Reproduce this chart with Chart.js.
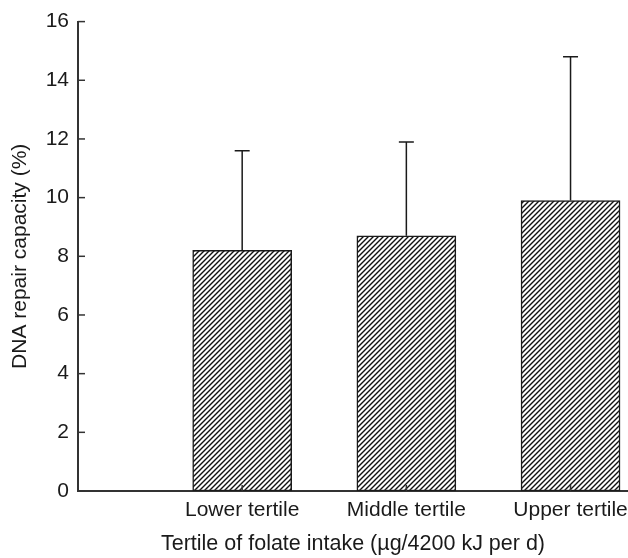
<!DOCTYPE html>
<html>
<head>
<meta charset="utf-8">
<script src="https://cdn.jsdelivr.net/npm/chart.js@4.4.1/dist/chart.umd.min.js"></script>
<style>
  html, body { margin: 0; padding: 0; background: #fff; }
  #wrap { width: 628px; height: 558px; }
</style>
</head>
<body>
<div id="wrap"><canvas id="repairChart"></canvas></div>
<script>
// tertiles of folate intake
const categories = ["Lower tertile", "Middle tertile", "Upper tertile"];
// mean DNA repair capacity (%)
const meanRepair = [8.2, 8.7, 9.9];
// upper error (SD)
const sdRepair = [3.4, 3.2, 4.9];
const yTicks = [0, 2, 4, 6, 8, 10, 12, 14, 16];

const FONT = "'Liberation Sans', Arial, Helvetica, sans-serif";
const INK = "#1a1a1a";

// diagonal hatch "/" pattern
function hatchPattern(size) {
  const c = document.createElement("canvas");
  c.width = size; c.height = size;
  const g = c.getContext("2d");
  g.fillStyle = "#fff";
  g.fillRect(0, 0, size, size);
  g.strokeStyle = "#111";
  g.lineWidth = 1.4;
  g.beginPath();
  g.moveTo(0, size); g.lineTo(size, 0);
  g.moveTo(-1, 1); g.lineTo(1, -1);
  g.moveTo(size - 1, size + 1); g.lineTo(size + 1, size - 1);
  g.stroke();
  return g.createPattern(c, "repeat");
}

// error bars (upward only) + inward tick marks
const extrasPlugin = {
  id: "extras",
  afterDatasetsDraw(chart) {
    const { ctx, scales: { x, y }, chartArea } = chart;
    ctx.save();
    ctx.strokeStyle = INK;
    ctx.lineWidth = 1.5;
    meanRepair.forEach((m, i) => {
      const px = x.getPixelForValue(i + 1);
      const yb = y.getPixelForValue(m);
      const yt = y.getPixelForValue(m + sdRepair[i]);
      ctx.beginPath();
      ctx.moveTo(px, yb); ctx.lineTo(px, yt);
      ctx.moveTo(px - 7.5, yt); ctx.lineTo(px + 7.5, yt);
      ctx.stroke();
    });
    // y ticks pointing into plot
    ctx.strokeStyle = "#333";
    yTicks.forEach(v => {
      const py = y.getPixelForValue(v);
      ctx.beginPath();
      ctx.moveTo(chartArea.left, py); ctx.lineTo(chartArea.left + 7, py);
      ctx.stroke();
    });
    // x ticks pointing up
    categories.forEach((c, i) => {
      const px = x.getPixelForValue(i + 1);
      ctx.beginPath();
      ctx.moveTo(px, chartArea.bottom); ctx.lineTo(px, chartArea.bottom - 6);
      ctx.stroke();
    });
    ctx.restore();
  }
};

const ctx = document.getElementById("repairChart").getContext("2d");
new Chart(ctx, {
  type: "bar",
  data: {
    datasets: [{
      data: meanRepair.map((v, i) => ({ x: i + 1, y: v })),
      backgroundColor: hatchPattern(5),
      borderColor: INK,
      borderWidth: 1.5,
      borderSkipped: false,
      barThickness: 99,
    }],
  },
  options: {
    responsive: true,
    maintainAspectRatio: false,
    animation: false,
    events: [],
    layout: { padding: { top: 19, right: 0, left: 0, bottom: 0 } },
    plugins: { legend: { display: false }, tooltip: { enabled: false } },
    scales: {
      x: {
        type: "linear",
        offset: false,
        min: 0,
        max: 3.35,
        afterBuildTicks: (s) => { s.ticks = categories.map((c, i) => ({ value: i + 1 })); },
        afterFit: (s) => { s.height = 67; s.paddingLeft = 0; s.paddingRight = 0; },
        grid: { display: false, drawTicks: false },
        border: { display: true, color: "#333", width: 2 },
        ticks: {
          autoSkip: false,
          maxRotation: 0,
          padding: 7,
          color: INK,
          font: { family: FONT, size: 21 },
          callback: (v) => categories[v - 1] ?? "",
        },
        title: {
          display: true,
          text: "Tertile of folate intake (µg/4200 kJ per d)",
          color: INK,
          font: { family: FONT, size: 21.5 },
          padding: { top: 0, bottom: 1 },
        },
      },
      y: {
        min: 0,
        max: 16,
        afterBuildTicks: (s) => { s.ticks = yTicks.map(v => ({ value: v })); },
        afterFit: (s) => { s.width = 78; },
        grid: { display: false, drawTicks: false },
        border: { display: true, color: "#333", width: 2 },
        ticks: {
          padding: 9,
          color: INK,
          font: { family: FONT, size: 21 },
        },
        title: {
          display: true,
          text: "DNA repair capacity (%)",
          color: INK,
          font: { family: FONT, size: 21 },
          padding: { top: 8, bottom: 0 },
        },
      },
    },
  },
  plugins: [extrasPlugin],
});
</script>
</body>
</html>
